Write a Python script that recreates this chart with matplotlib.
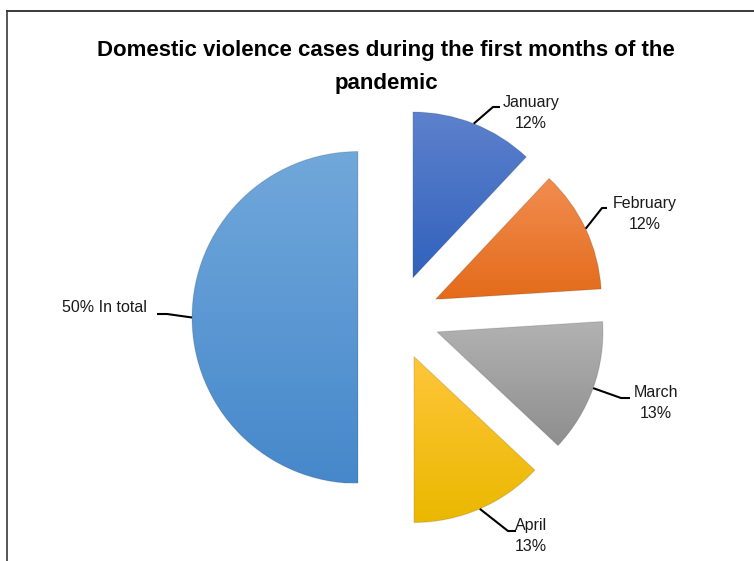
import numpy as np
import matplotlib.pyplot as plt
from matplotlib.colors import LinearSegmentedColormap

# Datos del grafico
meses = ["January", "February", "March", "April", "In total"]
porcentajes = [12, 12, 13, 13, 50]
etiquetas = ["January\n12%", "February\n12%", "March\n13%", "April\n13%", "50% In total"]

# Colores de cada porcion (arriba -> abajo del degradado)
color_arriba = ["#5d81cc", "#f18d51", "#b2b2b2", "#ffc63a", "#71a8db"]
color_abajo = ["#3162bd", "#e46b1a", "#8e8e8e", "#eab800", "#4688cb"]

# Escala: 1 unidad = radio del pastel en pixeles
R = 166.0
CX, CY = 397.0, 317.5
W, H = 754, 561


def px(x, y):
    # Pasa de pixeles de la imagen a coordenadas de datos
    return ((x - CX) / R, (CY - y) / R)


fuente = ["Liberation Sans Narrow", "Liberation Sans", "DejaVu Sans"]

fig = plt.figure(figsize=(W / 100, H / 100), dpi=100)
ax = fig.add_axes([0, 0, 1, 1])

wedges, _ = ax.pie(porcentajes, startangle=90, counterclock=False, radius=1,
                   explode=[0.256, 0.256, 0.256, 0.256, 0.235])

ax.set_aspect("equal")
ax.axis("off")

# Relleno con degradado vertical recortado a cada porcion
grad = np.linspace(0, 1, 256).reshape(-1, 1)
for w, c1, c2 in zip(wedges, color_arriba, color_abajo):
    w.set_facecolor("none")
    w.set_edgecolor((0, 0, 0, 0.12))
    w.set_linewidth(0.8)
    w.set_zorder(2)
    bb = w.get_path().get_extents()
    cmap = LinearSegmentedColormap.from_list("g", [c2, c1])
    im = ax.imshow(grad, cmap=cmap, origin="lower", aspect="auto",
                   extent=[bb.x0, bb.x1, bb.y0, bb.y1], zorder=1)
    im.set_clip_path(w)

ax.set_xlim(-CX / R, (W - CX) / R)
ax.set_ylim(-(H - CY) / R, CY / R)

# Etiquetas con lineas guia: codo y posicion del texto en pixeles
codos = [(493, 107), (602, 208), (621, 398), (508, 531), (167, 314)]
fin_linea = [(500, 107), (607, 208), (630, 398), (516, 531), (157, 314)]
pos_texto = [(531, 113), (645, 214), (656, 403), (531, 536), (104, 308)]

for w, et, codo, fin, pt in zip(wedges, etiquetas, codos, fin_linea, pos_texto):
    ang = np.deg2rad((w.theta1 + w.theta2) / 2)
    ax0 = w.center[0] + np.cos(ang)
    ay0 = w.center[1] + np.sin(ang)
    c = px(*codo)
    f = px(*fin)
    ax.plot([ax0, c[0], f[0]], [ay0, c[1], f[1]], color="black", lw=1.5,
            solid_capstyle="butt", zorder=3)
    tx, ty = px(*pt)
    ax.text(tx, ty, et, ha="center", va="center", fontsize=11.5,
            family=fuente, linespacing=1.45, color="#1a1a1a", zorder=4)

# Titulo
fig.text(386 / W, 1 - 67 / H,
         "Domestic violence cases during the first months of the\npandemic",
         ha="center", va="center", fontsize=16, fontweight="bold",
         family=fuente, linespacing=1.77)

# Marco del area del grafico
fig.add_artist(plt.Line2D([7 / W, 1], [1 - 11 / H, 1 - 11 / H],
                          transform=fig.transFigure, color="#3a3a3a", lw=1.4))
fig.add_artist(plt.Line2D([7 / W, 7 / W], [0, 1 - 11 / H],
                          transform=fig.transFigure, color="#3a3a3a", lw=1.2))

fig.savefig("out.png", dpi=100)
